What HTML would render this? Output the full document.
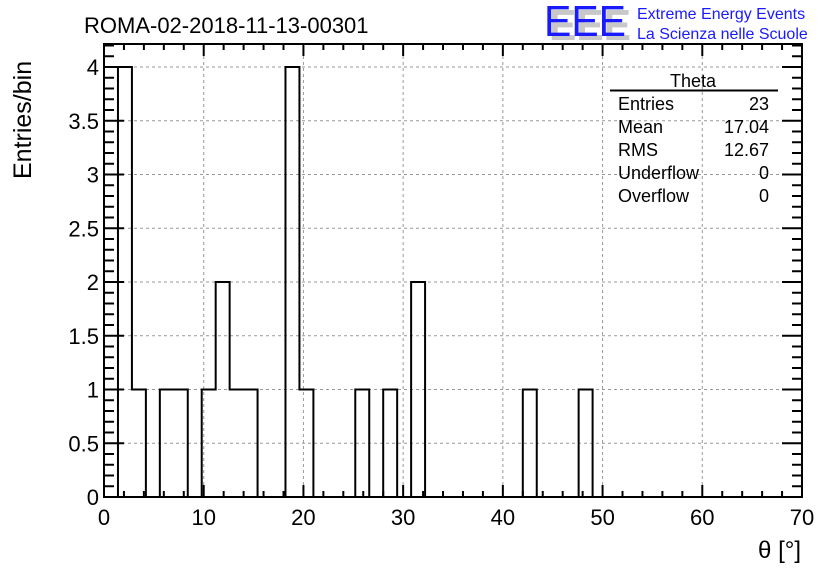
<!DOCTYPE html>
<html><head><meta charset="utf-8"><style>
body{margin:0;background:#fff;}
svg text{font-family:"Liberation Sans",sans-serif;}
</style></head><body>
<svg width="836" height="572" viewBox="0 0 836 572" xmlns="http://www.w3.org/2000/svg">
<rect width="836" height="572" fill="#fff"/>
<text x="84" y="33" font-size="22">ROMA-02-2018-11-13-00301</text>
<g>
<text x="549" y="40" font-size="44" fill="#c8c8c8" font-weight="bold" textLength="82" lengthAdjust="spacingAndGlyphs">EEE</text>
<text x="544" y="36" font-size="44" fill="#1a1aff" textLength="82" lengthAdjust="spacingAndGlyphs">EEE</text>
<text x="637" y="19" font-size="16" fill="#1a1aff">Extreme Energy Events</text>
<text x="637" y="39" font-size="16" fill="#1a1aff">La Scienza nelle Scuole</text>
</g>
<g id="grid"></g>
<g id="hist"></g>
<g id="axes"></g>
<g font-size="18">
<text x="693" y="87" text-anchor="middle">Theta</text>
<line x1="610" y1="90.5" x2="778" y2="90.5" stroke="#000" stroke-width="2"/>
<text x="618" y="110">Entries</text><text x="769" y="110" text-anchor="end">23</text>
<text x="618" y="133">Mean</text><text x="769" y="133" text-anchor="end">17.04</text>
<text x="618" y="156">RMS</text><text x="769" y="156" text-anchor="end">12.67</text>
<text x="618" y="179">Underflow</text><text x="769" y="179" text-anchor="end">0</text>
<text x="618" y="202">Overflow</text><text x="769" y="202" text-anchor="end">0</text>
</g>
<text x="801" y="558" font-size="24" text-anchor="end">θ [°]</text>
<text transform="translate(31,179) rotate(-90)" font-size="25">Entries/bin</text>
</svg>
<script>
const binCounts=[0,4,1,0,1,1,0,1,2,1,1,0,0,4,1,0,0,0,1,0,1,0,2,0,0,0,0,0,0,0,1,0,0,0,1,0,0,0,0,0,0,0,0,0,0,0,0,0,0,0];
const binWidth=1.4;
const xTicks=[0,10,20,30,40,50,60,70];
const yTicks=[0,0.5,1,1.5,2,2.5,3,3.5,4];
const yTickLabels=["0","0.5","1","1.5","2","2.5","3","3.5","4"];
const X0=104,X1=802,Y0=497,YT=44,xMax=70,yScale=107.5;
const sx=v=>X0+v*(X1-X0)/xMax, sy=v=>Y0-v*yScale;
const NS="http://www.w3.org/2000/svg";
function mk(t,a,p){const e=document.createElementNS(NS,t);for(const k in a)e.setAttribute(k,a[k]);p.appendChild(e);return e;}
const grid=document.getElementById('grid'),hist=document.getElementById('hist'),axes=document.getElementById('axes');
xTicks.forEach(v=>{if(v>0&&v<xMax){const l=mk('line',{x1:sx(v),x2:sx(v),y1:YT,y2:Y0,stroke:'#999','stroke-dasharray':'3,3','stroke-width':1},grid);

}});
yTicks.forEach(v=>{if(v>0){const l=mk('line',{x1:X0,x2:X1,y1:sy(v),y2:sy(v),stroke:'#999','stroke-dasharray':'3,3','stroke-width':1},grid);

}});
let d='M'+sx(0)+','+sy(0);
binCounts.forEach((c,i)=>{d+=' L'+sx(i*binWidth)+','+sy(c)+' L'+sx((i+1)*binWidth)+','+sy(c);});
d+=' L'+sx(binCounts.length*binWidth)+','+sy(0);
const p=mk('path',{d:d,fill:'none',stroke:'#000','stroke-width':2},hist);


const fr=mk('rect',{x:X0,y:YT,width:X1-X0,height:Y0-YT,fill:'none',stroke:'#000','stroke-width':2},axes);


for(let v=0;v<=xMax;v+=2){const M=v%10===0,L=M?12:6;
mk('line',{x1:sx(v),x2:sx(v),y1:Y0,y2:Y0-L,stroke:'#000','stroke-width':2},axes);
mk('line',{x1:sx(v),x2:sx(v),y1:YT,y2:YT+L,stroke:'#000','stroke-width':2},axes);}
xTicks.forEach(v=>{const t=mk('text',{x:sx(v),y:525,'font-size':22,'text-anchor':'middle'},axes);t.textContent=v;

});
for(let k=0;k<=42;k++){const v=k/10,M=k%5===0,L=M?20:10;
mk('line',{x1:X0,x2:X0+L,y1:sy(v),y2:sy(v),stroke:'#000','stroke-width':2},axes);
mk('line',{x1:X1,x2:X1-L,y1:sy(v),y2:sy(v),stroke:'#000','stroke-width':2},axes);}
yTicks.forEach((v,i)=>{const t=mk('text',{x:99,y:sy(v)+8,'font-size':22,'text-anchor':'end'},axes);t.textContent=yTickLabels[i];

});
</script>
</body></html>
